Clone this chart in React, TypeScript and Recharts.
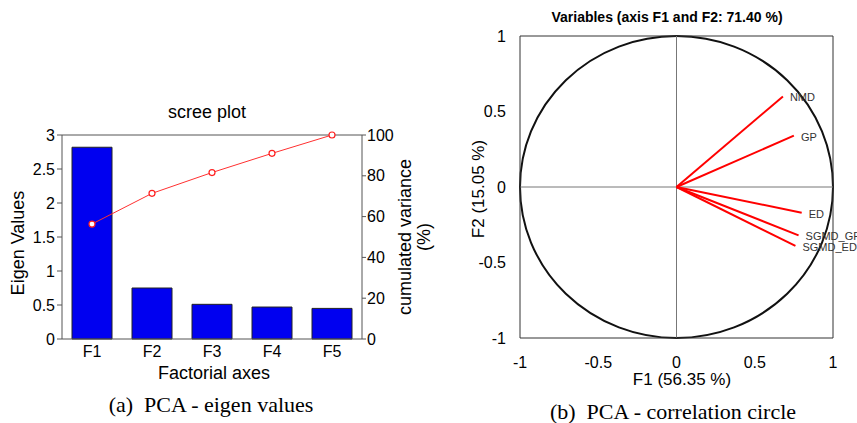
import React from 'react';
import {
    ComposedChart,
    Bar,
    Line,
    XAxis,
    YAxis,
    ScatterChart,
    Scatter,
    ReferenceLine,
    ReferenceArea
} from 'recharts';

const factors = ['F1', 'F2', 'F3', 'F4', 'F5'];
const eigenValues = [2.82, 0.75, 0.51, 0.47, 0.45];
const cumulatedVariance = [56.35, 71.4, 81.6, 91.0, 100];
const eigenTicks = [0, 0.5, 1, 1.5, 2, 2.5, 3];
const varianceTicks = [0, 20, 40, 60, 80, 100];

const variableNames = ['NMD', 'GP', 'ED', 'SGMD_GP', 'SGMD_ED'];
const f1Loadings = [0.68, 0.75, 0.8, 0.78, 0.76];
const f2Loadings = [0.6, 0.34, -0.17, -0.32, -0.39];
const circleTicks = [-1, -0.5, 0, 0.5, 1];

const screeData = factors.map((f, i) => ({
    name: f,
    eigen: eigenValues[i],
    cum: cumulatedVariance[i]
}));

const vectors = variableNames.map((n, i) => [
    { x: 0, y: 0 },
    { x: f1Loadings[i], y: f2Loadings[i], name: n }
]);

const sans = 'Arial, "Liberation Sans", sans-serif';
const serif = '"Times New Roman", "Liberation Serif", serif';
const tick = { fill: '#000', fontSize: 16, fontFamily: sans };

type TxtProps = {
    x: number;
    y: number;
    size: number;
    rotate?: number;
    bold?: boolean;
    font?: string;
    children: React.ReactNode;
};

const Txt = ({ x, y, size, rotate = 0, bold, font = sans, children }: TxtProps) => (
    <div
        style={{
            position: 'absolute',
            left: x,
            top: y,
            transform: `translate(-50%, -50%) rotate(${rotate}deg)`,
            fontSize: size,
            fontFamily: font,
            fontWeight: bold ? 'bold' : 'normal',
            whiteSpace: 'nowrap',
            lineHeight: 1.05,
            textAlign: 'center',
            color: '#000'
        }}
    >
        {children}
    </div>
);

const VectorEnd = (props: any) => {
    const { cx, cy, payload } = props;
    if (!payload || !payload.name) return <g />;
    return (
        <text
            x={cx + 7}
            y={cy + 1}
            fontSize={11}
            fontFamily={sans}
            fill="#333"
            dominantBaseline="central"
        >
            {payload.name}
        </text>
    );
};

const Circle = (props: any) => {
    const { x, y, width, height } = props;
    return (
        <ellipse
            cx={x + width / 2}
            cy={y + height / 2}
            rx={width / 2}
            ry={height / 2}
            fill="none"
            stroke="#111"
            strokeWidth={2}
        />
    );
};

const App = () => {
    return (
        <div
            style={{
                position: 'absolute',
                left: 0,
                top: 0,
                width: 857,
                height: 423,
                background: '#fff',
                overflow: 'hidden'
            }}
        >
            <div style={{ position: 'absolute', left: 0, top: 0 }}>
                <ComposedChart
                    width={430}
                    height={423}
                    data={screeData}
                    margin={{ top: 135, right: 0, bottom: 0, left: 0 }}
                >
                    <XAxis
                        dataKey="name"
                        height={84}
                        tick={tick}
                        tickSize={4}
                        tickMargin={3}
                        stroke="#555"
                        tickLine={false}
                    />
                    <YAxis
                        yAxisId="left"
                        width={62}
                        domain={[0, 3]}
                        ticks={eigenTicks}
                        tick={tick}
                        tickSize={5}
                        tickMargin={2}
                        stroke="#555"
                        interval={0}
                    />
                    <YAxis
                        yAxisId="right"
                        orientation="right"
                        width={68}
                        domain={[0, 100]}
                        ticks={varianceTicks}
                        tick={tick}
                        tickSize={4}
                        tickMargin={1}
                        stroke="#555"
                        interval={0}
                    />
                    <ReferenceLine yAxisId="left" y={3} stroke="#555" />
                    <Bar
                        yAxisId="left"
                        dataKey="eigen"
                        fill="#0000f0"
                        stroke="#222"
                        strokeWidth={1}
                        barSize={40}
                        isAnimationActive={false}
                    />
                    <Line
                        yAxisId="right"
                        dataKey="cum"
                        type="linear"
                        stroke="#ff3030"
                        strokeWidth={1}
                        dot={{ r: 3, fill: '#fff', stroke: '#ff2020', strokeWidth: 1.2 }}
                        isAnimationActive={false}
                    />
                </ComposedChart>
            </div>

            <div style={{ position: 'absolute', left: 470, top: 0 }}>
                <ScatterChart
                    width={387}
                    height={423}
                    margin={{ top: 36, right: 24, bottom: 0, left: 0 }}
                >
                    <XAxis
                        type="number"
                        dataKey="x"
                        domain={[-1, 1]}
                        ticks={circleTicks}
                        height={85}
                        tick={tick}
                        tickLine={false}
                        tickMargin={13}
                        stroke="#333"
                        interval={0}
                    />
                    <YAxis
                        type="number"
                        dataKey="y"
                        domain={[-1, 1]}
                        ticks={circleTicks}
                        width={50}
                        tick={tick}
                        tickLine={false}
                        tickMargin={8}
                        stroke="#333"
                        interval={0}
                    />
                    <ReferenceLine y={1} stroke="#333" />
                    <ReferenceLine x={1} stroke="#333" />
                    <ReferenceLine y={0} stroke="#777" />
                    <ReferenceLine x={0} stroke="#777" />
                    <ReferenceArea
                        x1={-1}
                        x2={1}
                        y1={-1}
                        y2={1}
                        shape={<Circle />}
                    />
                    {vectors.map((v, i) => (
                        <Scatter
                            key={variableNames[i]}
                            data={v}
                            line={{ stroke: '#ff0000', strokeWidth: 2 }}
                            shape={<VectorEnd />}
                            isAnimationActive={false}
                        />
                    ))}
                </ScatterChart>
            </div>

            <Txt x={207} y={112} size={18}>scree plot</Txt>
            <Txt x={18} y={243} size={18} rotate={-90}>Eigen Values</Txt>
            <Txt x={415} y={237} size={18} rotate={-90}>
                cumulated variance
                <br />
                (%)
            </Txt>
            <Txt x={214} y={373} size={18}>Factorial axes</Txt>
            <Txt x={211} y={405} size={22} font={serif}>(a)&nbsp; PCA - eigen values</Txt>

            <Txt x={667} y={17} size={14} bold>Variables (axis F1 and F2: 71.40 %)</Txt>
            <Txt x={479} y={189} size={17} rotate={-90}>F2 (15.05 %)</Txt>
            <Txt x={682} y={380} size={17}>F1 (56.35 %)</Txt>
            <Txt x={673} y={412} size={22} font={serif}>(b)&nbsp; PCA - correlation circle</Txt>
        </div>
    );
};

export default App;
